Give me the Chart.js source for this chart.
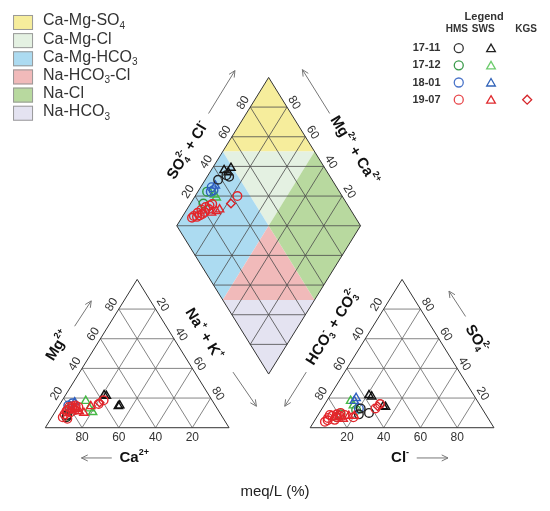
<!DOCTYPE html>
<html>
<head>
<title>Piper diagram</title>
<script src="https://cdn.jsdelivr.net/npm/chart.js"></script>
<style>body{margin:0;background:#fff}</style>
</head>
<body>
<canvas id="piper" width="550" height="511"></canvas>
<script>
// values are % of meq/L
// cation triangle: [Ca, Mg]  (Na+K is the rest)
// anion triangle:  [HCO3+CO3, SO4]  (Cl is the rest)
// diamond:         [Ca+Mg, SO4+Cl]
const hms1711Cat = [[85, 7], [84, 8.5]];
const hms1711An = [[63, 10], [69, 9], [66, 13]];
const hms1711Dia = [[93, 38], [90, 44], [88, 45]];

const sws1711Cat = [[57, 22], [56, 21.5], [53, 14.5], [52, 15]];
const sws1711An = [[57, 22], [56, 21], [53, 14.5], [52, 14]];
const sws1711Dia = [[93, 44.5], [90, 49], [90, 46]];

const hms1712Cat = [[84, 8], [80, 13]];
const hms1712An = [[79, 9], [69, 12], [82, 7]];
const hms1712Dia = [[93, 22], [95, 28]];

const sws1712Cat = [[69, 18], [69, 10.5], [69.5, 13]];
const sws1712An = [[69, 18], [69, 15]];
const sws1712Dia = [[90, 31], [88, 31]];

const hms1801Cat = [[77, 16.5], [80, 15]];
const hms1801An = [[67, 13]];
const hms1801Dia = [[94, 32], [92, 32], [93, 30]];

const sws1801Cat = [[75.5, 17]];
const sws1801An = [[65, 20], [67, 18]];
const sws1801Dia = [[92.5, 34.5]];

const hms1907Cat = [[85, 9], [82, 12], [80, 14], [78, 14.5], [76, 15], [75, 14], [78, 12], [81, 10.5],
  [87, 7], [85, 6], [83, 11], [79, 13], [77, 13.5], [63, 16], [59, 18.5]];
const hms1907An = [[90, 4], [87, 6.6], [84, 8], [81, 9], [78.5, 10], [77, 8.6], [84, 5.3], [85, 8.6],
  [88, 5], [82, 7], [80, 8], [73, 7], [58, 13], [54, 16]];
const hms1907Dia = [[94, 12.6], [93, 15.7], [92, 18.8], [90.6, 22], [89, 24.7], [88, 26.6], [91, 16],
  [89.5, 19.8], [88.3, 23], [94.4, 11], [92, 14], [90, 18], [77, 43]];

const sws1907Cat = [[76, 11], [74, 10], [68, 14.5], [77, 12.5]];
const sws1907An = [[75, 8], [72, 8], [79, 6], [81, 7]];
const sws1907Dia = [[83.4, 26.5], [85.5, 23.3], [82.2, 28.8]];

const kgs1907Cat = [[62, 17]];
const kgs1907An = [[56, 14.5]];
const kgs1907Dia = [[78, 37]];

const ticks = [20, 40, 60, 80];
const zoneNames = ['Ca-Mg-SO4', 'Ca-Mg-Cl', 'Ca-Mg-HCO3', 'Na-HCO3-Cl', 'Na-Cl', 'Na-HCO3'];
const zoneColors = ['#f6ed9c', '#e4f1e2', '#acdbf1', '#f1baba', '#b8d99f', '#e4e3f1'];
const campaigns = ['17-11', '17-12', '18-01', '19-07'];

// layout of the three plots, in canvas units
const G = { side: 188, h: 152, base: 432, leftX: 40, rightX: 311, dcx: 268.5, dcy: 225 };

function tri(x0, a, b, c) { // a: bottom-left, b: bottom-right, c: top
  return { x: x0 + (b + c / 2) * G.side / 100, y: G.base - c * G.h / 100 };
}
function catXY(p) { return tri(G.leftX, p[0], 100 - p[0] - p[1], p[1]); }
function anXY(p) { return tri(G.rightX, p[0], 100 - p[0] - p[1], p[1]); }
function diaXY(m, s) {
  return { x: G.dcx + (s - m) * G.side / 200, y: G.dcy + G.h - (m + s) * G.h / 100 };
}

function pts(cat, an, dia) {
  return cat.map(catXY).concat(an.map(anXY), dia.map(d => diaXY(d[0], d[1])));
}

const groups = [
  { label: 'HMS 19-07', data: pts(hms1907Cat, hms1907An, hms1907Dia), color: '#e3262b', style: 'circle' },
  { label: 'SWS 19-07', data: pts(sws1907Cat, sws1907An, sws1907Dia), color: '#e3262b', style: 'triangle' },
  { label: 'KGS 19-07', data: pts(kgs1907Cat, kgs1907An, kgs1907Dia), color: '#d6262b', style: 'rectRot' },
  { label: 'HMS 17-11', data: pts(hms1711Cat, hms1711An, hms1711Dia), color: '#222222', style: 'circle' },
  { label: 'SWS 17-11', data: pts(sws1711Cat, sws1711An, sws1711Dia), color: '#111111', style: 'triangle' },
  { label: 'HMS 18-01', data: pts(hms1801Cat, hms1801An, hms1801Dia), color: '#2f5fbf', style: 'circle' },
  { label: 'SWS 18-01', data: pts(sws1801Cat, sws1801An, sws1801Dia), color: '#2f5fbf', style: 'triangle' },
  { label: 'HMS 17-12', data: pts(hms1712Cat, hms1712An, hms1712Dia), color: '#2f9a3e', style: 'circle' },
  { label: 'SWS 17-12', data: pts(sws1712Cat, sws1712An, sws1712Dia), color: '#45b845', style: 'triangle' }
];

const FONT = '"Liberation Sans", Arial, sans-serif';

// rich text: parts [text, kind] kind 0 normal, 1 sub, 2 sup, 3 sup stacked over previous sub
function rich(ctx, parts, x, y, angle, size, bold, color) {
  const w = bold ? 'bold ' : '';
  const big = w + size + 'px ' + FONT, small = w + Math.round(size * 0.62) + 'px ' + FONT;
  let cx = 0, prev = 0;
  const items = [];
  parts.forEach(([t, k]) => {
    ctx.font = k ? small : big;
    const tw = ctx.measureText(t).width;
    if (k === 3) { items.push({ t, k, x: prev }); cx = Math.max(cx, prev + tw); }
    else { items.push({ t, k, x: cx }); prev = cx; cx += tw; }
  });
  ctx.save();
  ctx.translate(x, y);
  ctx.rotate(angle);
  ctx.fillStyle = color || '#222';
  ctx.textBaseline = 'middle';
  ctx.textAlign = 'left';
  items.forEach(it => {
    ctx.font = it.k ? small : big;
    const dy = it.k === 1 ? size * 0.32 : (it.k ? -size * 0.38 : 0);
    ctx.fillText(it.t, it.x - cx / 2, dy);
  });
  ctx.restore();
}

const piperPlugin = {
  id: 'piper',
  beforeDatasetsDraw(chart) {
    const ctx = chart.ctx, sx = chart.scales.x, sy = chart.scales.y;
    const P = p => [sx.getPixelForValue(p.x), sy.getPixelForValue(p.y)];
    function poly(list, fill, stroke, lw) {
      ctx.beginPath();
      list.forEach((p, i) => { const q = P(p); i ? ctx.lineTo(q[0], q[1]) : ctx.moveTo(q[0], q[1]); });
      ctx.closePath();
      if (fill) { ctx.fillStyle = fill; ctx.fill(); }
      if (stroke) { ctx.strokeStyle = stroke; ctx.lineWidth = lw; ctx.stroke(); }
    }
    function seg(a, b, color, lw) {
      const p = P(a), q = P(b);
      ctx.beginPath(); ctx.moveTo(p[0], p[1]); ctx.lineTo(q[0], q[1]);
      ctx.strokeStyle = color; ctx.lineWidth = lw; ctx.stroke();
    }
    function arrow(a, b) {
      seg(a, b, '#777', 1);
      const p = P(a), q = P(b), ang = Math.atan2(q[1] - p[1], q[0] - p[0]);
      ctx.beginPath();
      ctx.moveTo(q[0] - 7 * Math.cos(ang - 0.45), q[1] - 7 * Math.sin(ang - 0.45));
      ctx.lineTo(q[0], q[1]);
      ctx.lineTo(q[0] - 7 * Math.cos(ang + 0.45), q[1] - 7 * Math.sin(ang + 0.45));
      ctx.stroke();
    }
    const slope = Math.atan2(G.h, G.side / 2);
    const nL = { x: -Math.sin(slope), y: -Math.cos(slope) }, nR = { x: Math.sin(slope), y: -Math.cos(slope) };
    function tickAt(p, n, txt, ang) {
      const q = P({ x: p.x + n.x * 8.5, y: p.y + n.y * 8.5 });
      rich(ctx, [[txt, 0]], q[0], q[1], ang, 12, false, '#333');
    }

    // diamond zones, same order as zoneNames
    const D = (m, s) => diaXY(m, s);
    const T = D(100, 100), L = D(100, 0), R = D(0, 100), B = D(0, 0), C = D(50, 50);
    const mUL = D(100, 50), mUR = D(50, 100), mLL = D(50, 0), mLR = D(0, 50);
    const zones = [[T, mUL, mUR], [mUL, mUR, C], [L, mUL, C, mLL], [mLL, C, mLR], [R, mUR, C, mLR], [B, mLL, mLR]];
    zones.forEach((z, i) => poly(z, zoneColors[i], null));

    // diamond grid
    ticks.forEach(v => {
      seg(D(v, 0), D(v, 100), '#4a4a4a', 0.8);
      seg(D(0, v), D(100, v), '#4a4a4a', 0.8);
    });
    for (let s = 20; s <= 180; s += 20) {
      if (s === 100) { seg(L, R, '#4a4a4a', 0.8); continue; }
      if (s < 100) seg(D(s, 0), D(0, s), '#4a4a4a', 0.8);
      else seg(D(100, s - 100), D(s - 100, 100), '#4a4a4a', 0.8);
    }
    poly([T, R, B, L], null, '#333', 1);
    ticks.forEach(v => {
      tickAt(D(100, v), nL, String(v), -slope);
      tickAt(D(v, 100), nR, String(v), slope);
    });

    // ternary triangles
    [G.leftX, G.rightX].forEach(x0 => {
      ticks.forEach(v => {
        const w = 100 - v;
        seg(tri(x0, w, 0, v), tri(x0, 0, w, v), '#666', 0.8);
        seg(tri(x0, v, w, 0), tri(x0, v, 0, w), '#666', 0.8);
        seg(tri(x0, 0, v, w), tri(x0, w, v, 0), '#666', 0.8);
      });
      poly([tri(x0, 100, 0, 0), tri(x0, 0, 100, 0), tri(x0, 0, 0, 100)], null, '#333', 1);
    });
    ticks.forEach(v => {
      const w = 100 - v;
      // cation
      const cb = P(tri(G.leftX, v, w, 0));
      rich(ctx, [[String(v), 0]], cb[0], cb[1] + 10, 0, 12, false, '#333');
      tickAt(tri(G.leftX, w, 0, v), nL, String(v), -slope);
      tickAt(tri(G.leftX, 0, v, w), nR, String(v), slope);
      // anion
      const ab = P(tri(G.rightX, w, v, 0));
      rich(ctx, [[String(v), 0]], ab[0], ab[1] + 10, 0, 12, false, '#333');
      tickAt(tri(G.rightX, v, 0, w), nL, String(v), -slope);
      tickAt(tri(G.rightX, 0, w, v), nR, String(v), slope);
    });

    // axis titles
    const at = (x, y) => P({ x, y });
    let q;
    q = at(186, 148); rich(ctx, [['SO', 0], ['4', 1], ['2-', 3], [' + Cl', 0], ['-', 2]], q[0], q[1], -slope, 15, true, '#111');
    q = at(356, 148); rich(ctx, [['Mg', 0], ['2+', 2], [' + Ca', 0], ['2+', 2]], q[0], q[1], slope, 15, true, '#111');
    q = at(53, 348); rich(ctx, [['Mg', 0], ['2+', 2]], q[0], q[1], -slope, 15, true, '#111');
    q = at(202, 336); rich(ctx, [['Na', 0], ['+', 2], [' + K', 0], ['+', 2]], q[0], q[1], slope, 15, true, '#111');
    q = at(334, 329); rich(ctx, [['HCO', 0], ['3', 1], ['-', 3], [' + CO', 0], ['3', 1], ['2-', 3]], q[0], q[1], -slope, 15, true, '#111');
    q = at(481, 341); rich(ctx, [['SO', 0], ['4', 1], ['2-', 3]], q[0], q[1], slope, 15, true, '#111');
    q = at(131, 463); rich(ctx, [['Ca', 0], ['2+', 2]], q[0], q[1], 0, 15, true, '#111');
    q = at(403, 463); rich(ctx, [['Cl', 0], ['-', 2]], q[0], q[1], 0, 15, true, '#111');
    q = at(275, 498); rich(ctx, [['meq/L (%)', 0]], q[0], q[1], 0, 15, false, '#222');

    // arrows
    arrow({ x: 207, y: 110 }, { x: 234, y: 66 });
    arrow({ x: 331, y: 110 }, { x: 303, y: 65 });
    arrow({ x: 70, y: 328 }, { x: 87, y: 302 });
    arrow({ x: 232, y: 375 }, { x: 256, y: 410 });
    arrow({ x: 307, y: 375 }, { x: 285, y: 410 });
    arrow({ x: 470, y: 318 }, { x: 453, y: 292 });
    arrow({ x: 108, y: 463 }, { x: 77, y: 463 });
    arrow({ x: 420, y: 463 }, { x: 452, y: 463 });

    // zone legend (top left)
    zoneNames.forEach((name, i) => {
      const b = at(7, 9 + i * 18.6);
      ctx.fillStyle = zoneColors[i];
      ctx.fillRect(b[0], b[1], 20, 15);
      ctx.strokeStyle = '#999'; ctx.lineWidth = 1;
      ctx.strokeRect(b[0] + 0.5, b[1] + 0.5, 19, 14);
      const parts = name.replace('SO4', 'SO|4|').replace('HCO3', 'HCO|3|').split('|')
        .map((t, j) => [t, j % 2 ? 1 : 0]).filter(p => p[0]);
      let wsum = 0;
      parts.forEach(p => { ctx.font = (p[1] ? '10px ' : '16px ') + FONT; wsum += ctx.measureText(p[0]).width; });
      rich(ctx, parts, b[0] + 30 + wsum / 2, b[1] + 6, 0, 16, false, '#333');
    });
  },
  afterDatasetsDraw(chart) {
    // symbol legend (top right)
    const ctx = chart.ctx, sx = chart.scales.x, sy = chart.scales.y;
    const at = (x, y) => [sx.getPixelForValue(x), sy.getPixelForValue(y)];
    let q = at(489, 11);
    rich(ctx, [['Legend', 0]], q[0], q[1], 0, 11, true, '#333');
    [['HMS', 461], ['SWS', 488], ['KGS', 532]].forEach(([t, x]) => {
      q = at(x, 24); rich(ctx, [[t, 0]], q[0], q[1], 0, 10, true, '#333');
    });
    const circ = ['#333333', '#3a9a4a', '#4a74c9', '#e8474b'];
    const triC = ['#222222', '#6dcc6d', '#3163b8', '#e02b2f'];
    function mark(style, color, x, y, r) {
      ctx.save();
      ctx.strokeStyle = color;
      ctx.fillStyle = 'rgba(0,0,0,0)';
      ctx.lineWidth = 1.3;
      Chart.helpers.drawPoint(ctx, { pointStyle: style, radius: r, borderWidth: 1.3, rotation: 0 }, x, y);
      ctx.restore();
    }
    campaigns.forEach((c, i) => {
      const y = 43 + i * 17.6;
      q = at(430, y); rich(ctx, [[c, 0]], q[0], q[1], 0, 11, true, '#333');
      q = at(463, y); mark('circle', circ[i], q[0], q[1], 4.5);
      q = at(496, y); mark('triangle', triC[i], q[0], q[1] + 1, 5);
      if (c === '19-07') { q = at(533, y); mark('rectRot', '#d6262b', q[0], q[1], 4.5); }
    });
  }
};

new Chart(document.getElementById('piper'), {
  type: 'scatter',
  data: {
    datasets: groups.map(g => ({
      label: g.label,
      data: g.data,
      pointStyle: g.style,
      pointRadius: g.style === 'triangle' ? 4.8 : 4.3,
      pointBorderWidth: 1.4,
      borderColor: g.color,
      backgroundColor: 'rgba(0,0,0,0)',
      pointBackgroundColor: 'rgba(0,0,0,0)'
    }))
  },
  options: {
    responsive: false,
    animation: false,
    devicePixelRatio: 1,
    layout: { padding: 0 },
    plugins: { legend: { display: false }, tooltip: { enabled: false } },
    scales: {
      x: { type: 'linear', min: 0, max: 550, display: false },
      y: { type: 'linear', min: 0, max: 511, reverse: true, display: false }
    }
  },
  plugins: [piperPlugin]
});
</script>
</body>
</html>
